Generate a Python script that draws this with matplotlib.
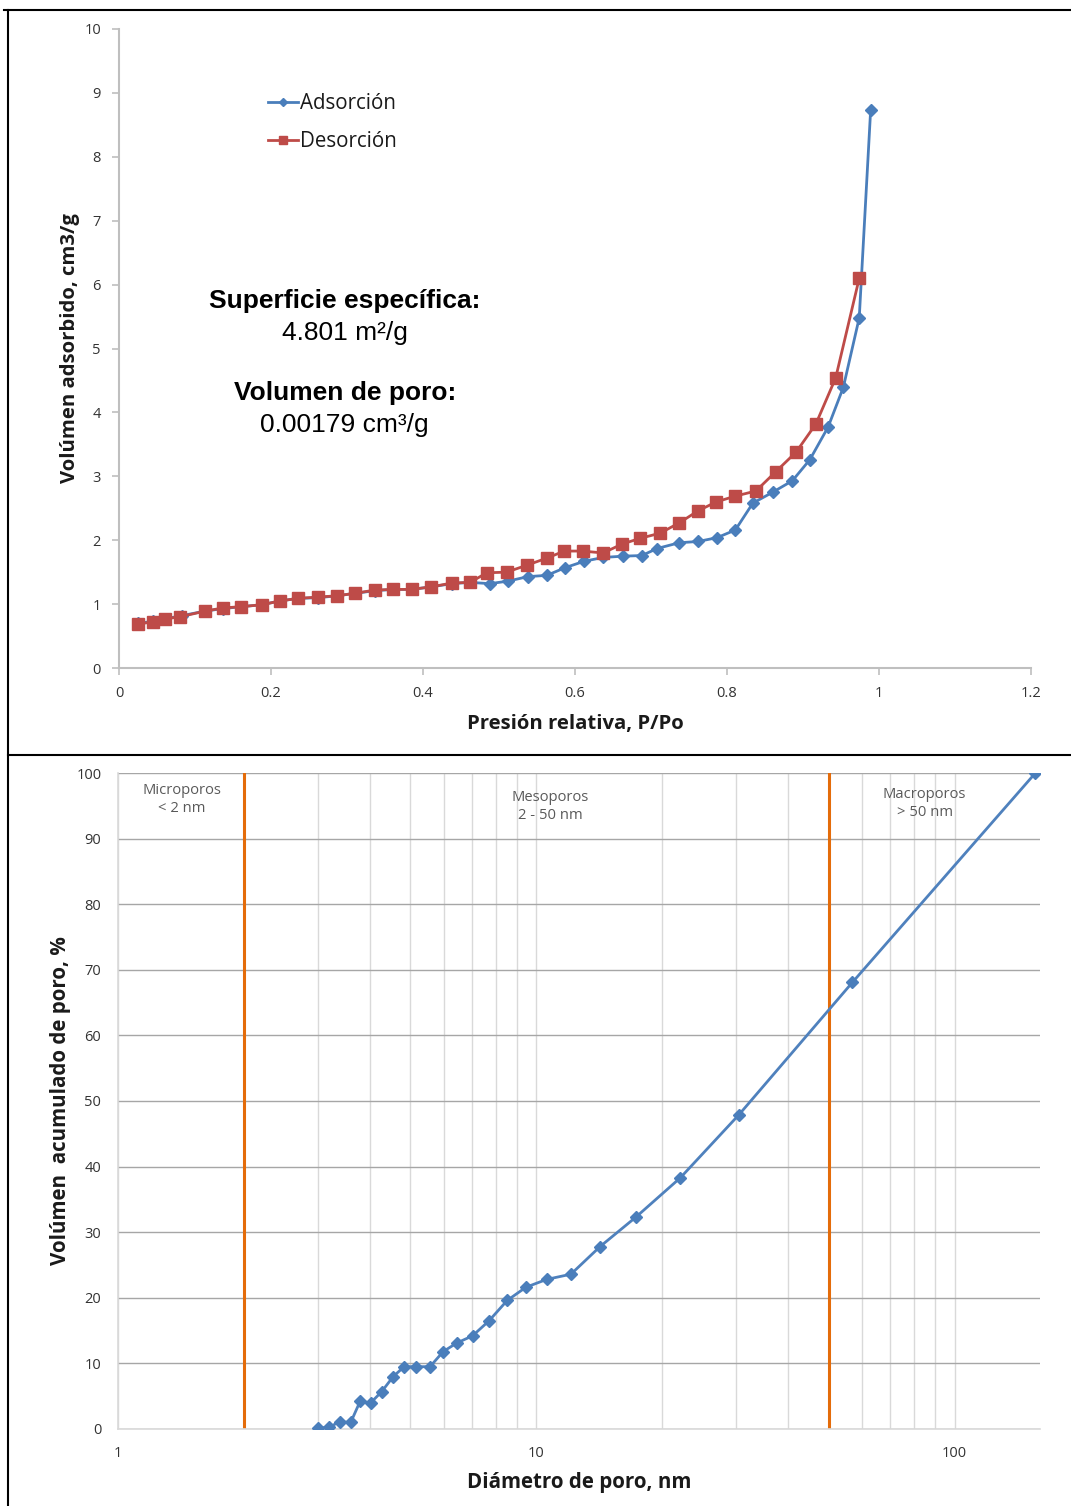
import matplotlib
matplotlib.use("Agg")
import matplotlib.pyplot as plt
from matplotlib.lines import Line2D
from matplotlib.ticker import FixedLocator, NullFormatter

# ---- Isotherm data (relative pressure vs adsorbed volume) ----
ads_p = [0.025, 0.045, 0.061, 0.083, 0.113, 0.137, 0.161, 0.188, 0.212, 0.236,
         0.262, 0.287, 0.311, 0.337, 0.361, 0.385, 0.411, 0.438, 0.462,
         0.488, 0.512, 0.538, 0.563, 0.587, 0.612, 0.637, 0.663, 0.688, 0.708,
         0.737, 0.762, 0.787, 0.811, 0.834, 0.860, 0.886, 0.909, 0.933, 0.953,
         0.974, 0.989]
ads_v = [0.70, 0.73, 0.77, 0.82, 0.89, 0.93, 0.96, 0.99, 1.05, 1.09,
         1.10, 1.13, 1.17, 1.21, 1.23, 1.23, 1.27, 1.32, 1.34,
         1.32, 1.36, 1.43, 1.45, 1.57, 1.67, 1.73, 1.75, 1.76, 1.87,
         1.96, 1.98, 2.04, 2.16, 2.58, 2.75, 2.93, 3.26, 3.77, 4.39,
         5.48, 8.73]

des_p = [0.025, 0.045, 0.061, 0.080, 0.113, 0.137, 0.161, 0.188, 0.212, 0.236,
         0.262, 0.287, 0.311, 0.337, 0.361, 0.385, 0.411, 0.438, 0.462,
         0.484, 0.510, 0.537, 0.563, 0.586, 0.610, 0.637, 0.662, 0.686, 0.712,
         0.737, 0.762, 0.786, 0.811, 0.838, 0.864, 0.891, 0.917, 0.943, 0.974]
des_v = [0.69, 0.72, 0.77, 0.80, 0.89, 0.94, 0.96, 0.99, 1.05, 1.09,
         1.11, 1.13, 1.17, 1.22, 1.23, 1.23, 1.27, 1.33, 1.34,
         1.49, 1.50, 1.61, 1.72, 1.83, 1.83, 1.80, 1.94, 2.03, 2.11,
         2.27, 2.46, 2.60, 2.69, 2.77, 3.07, 3.38, 3.82, 4.54, 6.10]

top_xticks = [0, 0.2, 0.4, 0.6, 0.8, 1.0, 1.2]
top_xlabels = ["0", "0.2", "0.4", "0.6", "0.8", "1", "1.2"]
top_yticks = list(range(0, 11))

# ---- Cumulative pore volume vs pore diameter ----
diam_nm = [3.01, 3.20, 3.39, 3.60, 3.79, 4.02, 4.27, 4.55, 4.83, 5.17,
           5.57, 5.99, 6.45, 7.04, 7.71, 8.52, 9.44, 10.58, 12.1, 14.2,
           17.3, 22.1, 30.5, 57.0, 156.0]
cum_pct = [0.1, 0.3, 1.1, 1.0, 4.2, 4.0, 5.7, 8.0, 9.5, 9.5,
           9.5, 11.8, 13.1, 14.2, 16.5, 19.6, 21.6, 22.8, 23.6, 27.8,
           32.3, 38.3, 47.9, 68.1, 100.0]

region_bounds = [2, 50]
region_labels = ["Microporos\n< 2 nm", "Mesoporos\n2 - 50 nm", "Macroporos\n> 50 nm"]
region_label_x = [1.42, 10.8, 84.8]
region_label_y = [96.0, 94.9, 95.3]

bottom_xticks = [1, 10, 100]
bottom_xlabels = ["1", "10", "100"]
bottom_yticks = list(range(0, 101, 10))

W, H = 1071, 1506
fig = plt.figure(figsize=(W / 100, H / 100), dpi=100)
fig.patch.set_facecolor("white")

UI = ["Open Sans", "DejaVu Sans"]
ARIAL = ["Liberation Sans", "DejaVu Sans"]
BLUE = "#4A7EBB"
RED = "#BE4B48"
ORANGE = "#E46C0A"
AXIS_GRAY = "#BFBFBF"
TICK_TXT = "#333333"
LABEL_TXT = "#1A1A1A"


def fig_rect(left_px, top_px, right_px, bottom_px):
    return [left_px / W, 1 - bottom_px / H, (right_px - left_px) / W, (bottom_px - top_px) / H]


# ===================== Isotherm =====================
ax1 = fig.add_axes(fig_rect(119, 29, 1031, 668))
ax1.plot(ads_p, ads_v, color=BLUE, lw=2, marker="D", ms=6.5, mfc=BLUE, mec=BLUE,
         label="Adsorción", zorder=3)
ax1.plot(des_p, des_v, color=RED, lw=2, marker="s", ms=8.5, mfc=RED, mec=RED,
         label="Desorción", zorder=4)
ax1.set_xlim(0, 1.2)
ax1.set_ylim(0, 10)
ax1.set_xticks(top_xticks)
ax1.set_xticklabels(top_xlabels)
ax1.set_yticks(top_yticks)
for s in ["top", "right"]:
    ax1.spines[s].set_visible(False)
for s in ["left", "bottom"]:
    ax1.spines[s].set_color(AXIS_GRAY)
    ax1.spines[s].set_linewidth(1.5)
ax1.tick_params(axis="both", colors=AXIS_GRAY, length=5, width=1.2, labelcolor=TICK_TXT,
                labelsize=10.5)
ax1.tick_params(axis="x", pad=8)
ax1.tick_params(axis="y", pad=8)
for lab in ax1.get_xticklabels() + ax1.get_yticklabels():
    lab.set_family(UI)
ax1.set_xlabel("Presión relativa, P/Po", family=UI, fontsize=14.6, fontweight="bold",
               color=LABEL_TXT, labelpad=9)
ax1.set_ylabel("Volúmen adsorbido, cm3/g", family=UI, fontsize=14.6, fontweight="bold",
               color=LABEL_TXT, labelpad=3)

leg = ax1.legend(loc="upper left", bbox_to_anchor=(268 / W, 1 - 93 / H),
                 bbox_transform=fig.transFigure, frameon=False, borderpad=0,
                 borderaxespad=0, handlelength=1.45, handletextpad=0.1,
                 labelspacing=0.85, markerscale=0.7,
                 prop={"family": UI, "size": 14.8})
for t in leg.get_texts():
    t.set_color(LABEL_TXT)

ax1.text(0.297, 5.74, "Superficie específica:", family=ARIAL, fontsize=19,
         fontweight="bold", ha="center", va="center")
ax1.text(0.297, 5.25, "4.801 m²/g", family=ARIAL, fontsize=19, ha="center", va="center")
ax1.text(0.297, 4.30, "Volumen de poro:", family=ARIAL, fontsize=19,
         fontweight="bold", ha="center", va="center")
ax1.text(0.297, 3.81, "0.00179 cm³/g", family=ARIAL, fontsize=19, ha="center", va="center")

# ===================== Pore size distribution =====================
ax2 = fig.add_axes(fig_rect(118, 773, 1040, 1429))
ax2.set_xscale("log")
ax2.set_xlim(1, 160)
ax2.set_ylim(0, 100)
ax2.xaxis.set_major_locator(FixedLocator(bottom_xticks))
ax2.set_xticklabels(bottom_xlabels)
minor = [m * d for d in (1, 10, 100) for m in range(2, 10) if m * d < 160]
ax2.xaxis.set_minor_locator(FixedLocator(minor))
ax2.xaxis.set_minor_formatter(NullFormatter())
ax2.set_yticks(bottom_yticks)
ax2.grid(which="major", axis="y", color="#A6A6A6", lw=1.0)
ax2.grid(which="both", axis="x", color="#D9D9D9", lw=1.0)
ax2.set_axisbelow(True)
for s in ["top", "right"]:
    ax2.spines[s].set_visible(False)
for s in ["left", "bottom"]:
    ax2.spines[s].set_color("#D9D9D9")
    ax2.spines[s].set_linewidth(1.2)
ax2.tick_params(axis="both", which="both", length=0, labelcolor=TICK_TXT, labelsize=10.5)
ax2.tick_params(axis="x", pad=12)
ax2.tick_params(axis="y", pad=12)
for lab in ax2.get_xticklabels() + ax2.get_yticklabels():
    lab.set_family(UI)

for b in region_bounds:
    ax2.axvline(b, color=ORANGE, lw=2.2, zorder=2)

ax2.plot(diam_nm, cum_pct, color="#4F81BD", lw=2, marker="D", ms=6.5,
         mfc=BLUE, mec=BLUE, zorder=4)

for lx, ly, txt in zip(region_label_x, region_label_y, region_labels):
    ax2.text(lx, ly, txt, family=UI, fontsize=10.6, color="#595959", ha="center",
             va="center", linespacing=1.3, zorder=3)

ax2.set_xlabel("Diámetro de poro, nm", family=UI, fontsize=14.8, fontweight="bold",
               color=LABEL_TXT, labelpad=8)
ax2.set_ylabel("Volúmen  acumulado de poro, %", family=UI, fontsize=14.8,
               fontweight="bold", color=LABEL_TXT, labelpad=4)

# ===================== Table frame =====================
frame_kw = dict(color="black", lw=1.5, transform=fig.transFigure)
fig.add_artist(Line2D([4 / W, 1], [1 - 10 / H, 1 - 10 / H], **frame_kw))
fig.add_artist(Line2D([8 / W, 8 / W], [0, 1 - 10 / H], **frame_kw))
fig.add_artist(Line2D([8 / W, 1], [1 - 755 / H, 1 - 755 / H], **frame_kw))

fig.savefig("out.png", dpi=100, facecolor="white")
